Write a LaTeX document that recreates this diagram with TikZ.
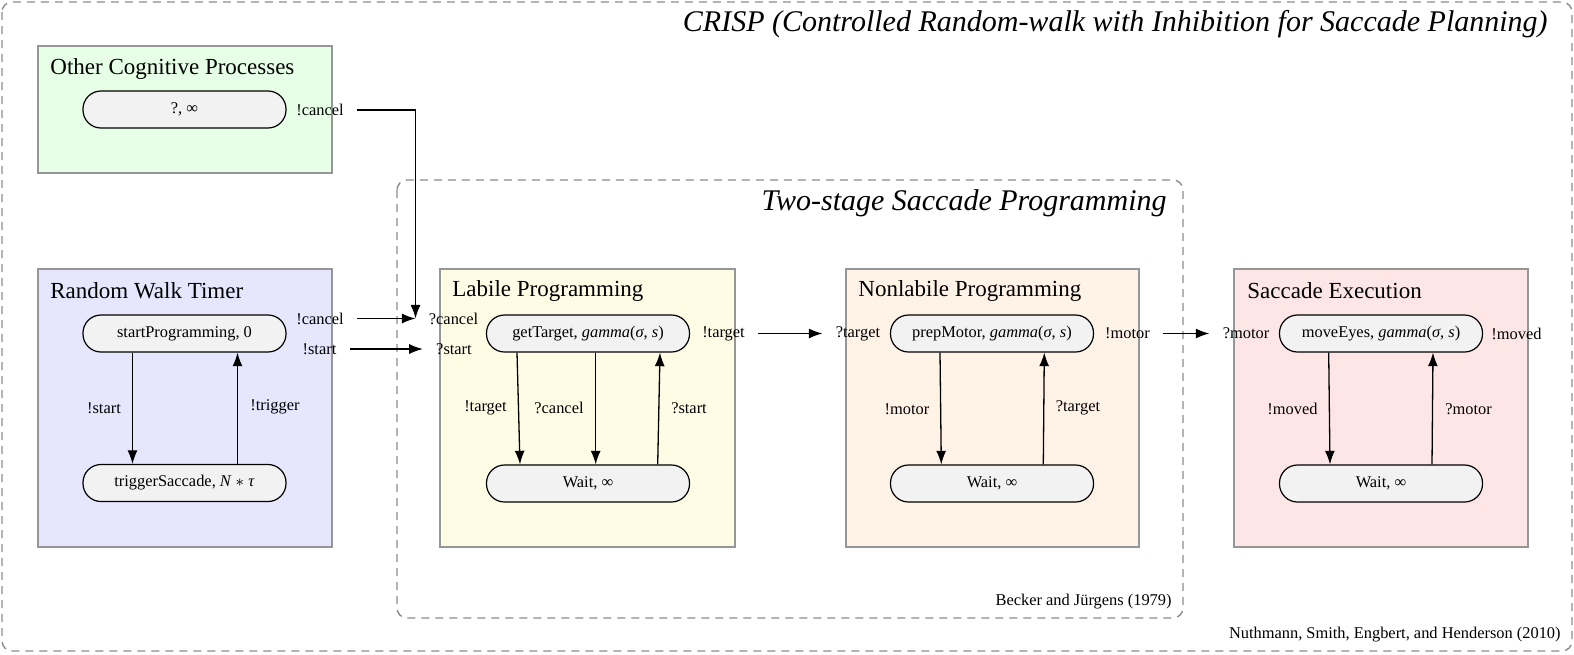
\documentclass[tikz,border=0pt]{standalone}
\usepackage{fontspec}
\setmainfont{Liberation Serif}
\usetikzlibrary{arrows.meta,calc}

\definecolor{ocgreen}{RGB}{230,255,230}
\definecolor{rwblue}{RGB}{230,230,255}
\definecolor{lpyellow}{RGB}{255,252,230}
\definecolor{nporange}{RGB}{255,242,230}
\definecolor{sered}{RGB}{255,230,230}
\definecolor{stategray}{RGB}{242,242,242}
\definecolor{boxborder}{RGB}{150,150,150}
\definecolor{dashgray}{RGB}{140,140,140}

\newcommand\lblfont{\fontsize{8.2}{9.8}\selectfont}
\newcommand\clusterfont{\fontsize{11.5}{13.8}\selectfont}
\newcommand\groupfont{\fontsize{15}{18}\selectfont\itshape}

\tikzset{
  statebox/.style={draw, line width=0.6pt, fill=stategray, rounded corners=9pt,
    minimum width=101.5pt, minimum height=18.5pt, inner sep=0pt, font=\lblfont},
  msg/.style={inner xsep=6.5pt, inner ysep=0pt, font=\lblfont},
  lbl/.style={inner sep=0pt, font=\lblfont},
  arr/.style={-{Latex[length=6.8pt,width=5pt]}, line width=0.65pt},
  cluster/.style={draw=boxborder, line width=0.75pt},
  clustertitle/.style={inner sep=0pt, anchor=west, font=\clusterfont},
  groupbox/.style={draw=dashgray, dash pattern=on 4pt off 3pt, line width=0.7pt, rounded corners=5pt},
  grouptitle/.style={inner sep=0pt, anchor=east, font=\groupfont},
}

\begin{document}
\begin{tikzpicture}[x=0.5pt, y=-0.5pt]
  \useasboundingbox (0,0) rectangle (1574,654);

  % groups
  \draw[groupbox] (2,2) rectangle (1572,651);
  \node[grouptitle] (crisp) at (1548,24) {CRISP (Controlled Random-walk with Inhibition for Saccade Planning)};
  \node[lbl, anchor=east] (nuthmann) at (1561,635) {Nuthmann, Smith, Engbert, and Henderson (2010)};
  \draw[groupbox] (397,180) rectangle (1183,618);
  \node[grouptitle] (twostage) at (1167,203) {Two-stage Saccade Programming};
  \node[lbl, anchor=east] (becker) at (1172,602) {Becker and Jürgens (1979)};

  % clusters
  \draw[cluster, fill=ocgreen] (38,46) rectangle (332,173);
  \draw[cluster, fill=rwblue] (38,269) rectangle (332,547);
  \draw[cluster, fill=lpyellow] (440,269) rectangle (735,547);
  \draw[cluster, fill=nporange] (846,269) rectangle (1139,547);
  \draw[cluster, fill=sered] (1234,269) rectangle (1528,547);
  \node[clustertitle] (ocTitle) at (50,69) {Other Cognitive Processes};
  \node[clustertitle] (rwTitle) at (50,291) {Random Walk Timer};
  \node[clustertitle] (lpTitle) at (452,291) {Labile Programming};
  \node[clustertitle] (npTitle) at (858,291) {Nonlabile Programming};
  \node[clustertitle] (seTitle) at (1247,291) {Saccade Execution};

  % states
  \node[statebox] (ocIdle) at (184.5,109.5) {?, ∞};
  \node[statebox] (rwStart) at (184.5,333.5) {startProgramming, 0};
  \node[statebox] (rwTrigger) at (184.5,483) {triggerSaccade, \textit{N} $*$ \textit{τ}};
  \node[statebox] (lpTarget) at (588,333.5) {getTarget, \textit{gamma}(\textit{σ}, \textit{s})};
  \node[statebox] (lpWait) at (588,483.5) {Wait, ∞};
  \node[statebox] (npMotor) at (992,333.5) {prepMotor, \textit{gamma}(\textit{σ}, \textit{s})};
  \node[statebox] (npWait) at (992,483.5) {Wait, ∞};
  \node[statebox] (seMove) at (1381,333.5) {moveEyes, \textit{gamma}(\textit{σ}, \textit{s})};
  \node[statebox] (seWait) at (1381,483.5) {Wait, ∞};

  % ports
  \node[msg] (ocCancelOut) at (320,110) {!cancel};
  \node[msg] (rwCancelOut) at (320,318.5) {!cancel};
  \node[msg] (rwStartOut) at (319.5,349) {!start};
  \node[msg] (lpCancelIn) at (453.5,318.5) {?cancel};
  \node[msg] (lpStartIn) at (454,349) {?start};
  \node[msg] (lpTargetOut) at (723.5,333.5) {!target};
  \node[msg] (npTargetIn) at (858,333.5) {?target};
  \node[msg] (npMotorOut) at (1127.5,333.5) {!motor};
  \node[msg] (seMotorIn) at (1246,333.5) {?motor};
  \node[msg] (seMovedOut) at (1516.5,333.5) {!moved};

  % transition labels
  \node[lbl] (rwLblStart) at (104,408) {!start};
  \node[lbl] (rwLblTrigger) at (275,407) {!trigger};
  \node[lbl] (lpLblTarget) at (485.5,408) {!target};
  \node[lbl] (lpLblCancel) at (559,408) {?cancel};
  \node[lbl] (lpLblStart) at (689,408) {?start};
  \node[lbl] (npLblMotor) at (907,409) {!motor};
  \node[lbl] (npLblTarget) at (1078,408) {?target};
  \node[lbl] (seLblMoved) at (1292.5,409) {!moved};
  \node[lbl] (seLblMotor) at (1468.5,409) {?motor};

  % messages between clusters
  \draw[arr] (ocCancelOut.east) -| (lpCancelIn.west);
  \draw[arr] (rwCancelOut.east) -- (lpCancelIn.west);
  \draw[arr] (rwStartOut.east) -- (lpStartIn.west);
  \draw[arr] (lpTargetOut.east) -- (npTargetIn.west);
  \draw[arr] (npMotorOut.east) -- (seMotorIn.west);

  % transitions
  \draw[arr] ($(rwStart.south)+(-52,0)$) -- ($(rwTrigger.north)+(-52,0)$);
  \draw[arr] ($(rwTrigger.north)+(53,0)$) -- ($(rwStart.south)+(53,0)$);
  \draw[arr] ($(lpTarget.south)+(-71,0)$) -- ($(lpWait.north)+(-68,0)$);
  \draw[arr] ($(lpTarget.south)+(7.7,0)$) -- ($(lpWait.north)+(7.7,0)$);
  \draw[arr] ($(lpWait.north)+(69.7,0)$) -- ($(lpTarget.south)+(72,0)$);
  \draw[arr] ($(npMotor.south)+(-52,0)$) -- ($(npWait.north)+(-50.7,0)$);
  \draw[arr] ($(npWait.north)+(51.3,0)$) -- ($(npMotor.south)+(52.3,0)$);
  \draw[arr] ($(seMove.south)+(-52.3,0)$) -- ($(seWait.north)+(-51,0)$);
  \draw[arr] ($(seWait.north)+(51,0)$) -- ($(seMove.south)+(52,0)$);
\end{tikzpicture}
\end{document}
